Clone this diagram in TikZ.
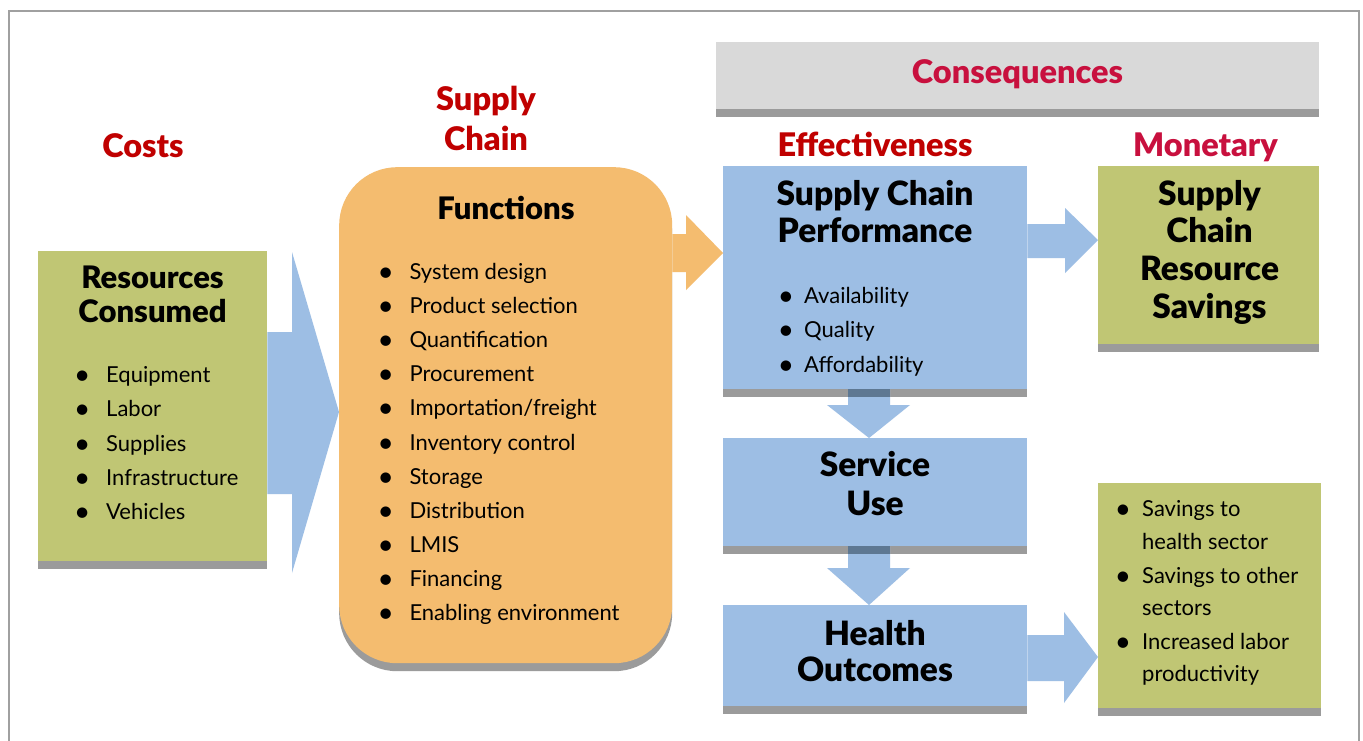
\documentclass[tikz,border=0pt]{standalone}
\usepackage{fontspec}
\setmainfont{Lato}
\newfontfamily\heavyfont{Lato Black}
\usetikzlibrary{calc,shadows}
\definecolor{boxgreen}{HTML}{C0C674}
\definecolor{boxblue}{HTML}{9DBEE4}
\definecolor{boxorange}{HTML}{F4BC6F}
\definecolor{bandgray}{HTML}{9B9B9B}
\definecolor{consgray}{HTML}{D9D9D9}
\definecolor{darkred}{HTML}{C00000}
\definecolor{crimson}{HTML}{C8103E}
\definecolor{overlapblue}{HTML}{5E7892}
\definecolor{framegray}{HTML}{A0A0A0}
\begin{document}
\begin{tikzpicture}[x=1pt,y=-1pt,
  box/.style={draw=none,inner sep=0pt,anchor=north west},
  head/.style={inner sep=0pt,anchor=base,font=\fontsize{31}{36}\selectfont\heavyfont},
  bighead/.style={inner sep=0pt,anchor=base,font=\fontsize{33.5}{38}\selectfont\heavyfont},
  title/.style={inner sep=0pt,anchor=base,font=\fontsize{32.5}{38}\selectfont\heavyfont,text=darkred},
  ctitle/.style={title,text=crimson},
  itemtxt/.style={inner sep=0pt,anchor=base west,font=\fontsize{22}{26}\selectfont},
  itembul/.style={inner sep=0pt,anchor=base,font=\fontsize{28}{30}\selectfont},
  band/.style={fill=bandgray},
  barrow/.style={fill=boxblue},
  oarrow/.style={fill=boxorange}]
\useasboundingbox (0,0) rectangle (1363,740);
\fill[white] (0,0) rectangle (1363,740);
\draw[framegray,line width=1.6pt] (9,760) -- (9,11) -- (1359,11) -- (1359,760);

% ---------- boxes ----------
\node[box,fill=boxgreen,minimum width=229pt,minimum height=310pt] (rc) at (38,251) {};
\fill[band] (rc.south west) rectangle ($(rc.south east)+(0,8)$);

\node[box,fill=boxorange,minimum width=333pt,minimum height=496pt,rounded corners=58pt,
  drop shadow={shadow xshift=0pt,shadow yshift=-8pt,fill=bandgray,opacity=1}] (fn) at (339,167) {};

\node[box,fill=consgray,minimum width=603pt,minimum height=67pt] (cons) at (716,42) {};
\fill[band] (cons.south west) rectangle ($(cons.south east)+(0,8)$);

\node[box,fill=boxblue,minimum width=304pt,minimum height=223pt] (scp) at (723,166) {};
\fill[band] (scp.south west) rectangle ($(scp.south east)+(0,8)$);

\node[box,fill=boxgreen,minimum width=221pt,minimum height=178pt] (mon) at (1098,166) {};
\fill[band] (mon.south west) rectangle ($(mon.south east)+(0,8)$);

\node[box,fill=boxblue,minimum width=304pt,minimum height=108pt] (su) at (723,438) {};
\fill[band] (su.south west) rectangle ($(su.south east)+(0,8)$);

\node[box,fill=boxblue,minimum width=304pt,minimum height=101pt] (ho) at (723,605) {};
\fill[band] (ho.south west) rectangle ($(ho.south east)+(0,8)$);

\node[box,fill=boxgreen,minimum width=223pt,minimum height=225pt] (sav) at (1098,483) {};
\fill[band] (sav.south west) rectangle ($(sav.south east)+(0,8)$);

% ---------- block arrows ----------
\fill[barrow] (rc.east |- 0,332) -- (292,332) -- (292,252) -- (fn.west |- 0,412)
  -- (292,573) -- (292,494) -- (rc.east |- 0,494) -- cycle;
\fill[oarrow] (fn.east |- 0,234) -- (686,234) -- (686,215) -- (scp.west |- 0,253)
  -- (686,290) -- (686,272) -- (fn.east |- 0,272) -- cycle;
\fill[barrow] (scp.east |- 0,224) -- (1065,224) -- (1065,208) -- (mon.west |- 0,240)
  -- (1065,273) -- (1065,258) -- (scp.east |- 0,258) -- cycle;
\fill[barrow] (ho.east |- 0,635) -- (1064,635) -- (1064,612) -- (sav.west |- 0,657)
  -- (1064,703) -- (1064,681) -- (ho.east |- 0,681) -- cycle;
\fill[barrow] (scp.south -| 848,0) -- (scp.south -| 890,0) -- (890,405) -- (910,405)
  -- (su.north -| 869,0) -- (827,405) -- (848,405) -- cycle;
\fill[overlapblue] (scp.south -| 848,0) rectangle (890,397);
\fill[barrow] (su.south -| 848,0) -- (su.south -| 890,0) -- (890,568) -- (910,568)
  -- (ho.north -| 869,0) -- (827,568) -- (848,568) -- cycle;
\fill[overlapblue] (su.south -| 848,0) rectangle (890,554);

% ---------- titles ----------
\node[title] (tcosts) at (143,157) {Costs};
\node[title] (tsc1) at (486,110) {Supply};
\node[title] (tsc2) at (486,150) {Chain};
\node[ctitle] (tcons) at (1017.5,83) {Consequences};
\node[title] (teff) at (875,156) {Effectiveness};
\node[ctitle] (tmon) at (1205.5,156) {Monetary};

% ---------- headings in boxes ----------
\node[head] (hrc1) at (152.5,288.5) {Resources};
\node[head] (hrc2) at (152.5,322.7) {Consumed};
\node[head] (hfn) at (506,219.5) {Functions};
\node[bighead] (hscp1) at (875,205) {Supply Chain};
\node[bighead] (hscp2) at (875,242.3) {Performance};
\node[bighead] (hmon1) at (1209.5,205) {Supply};
\node[bighead] (hmon2) at (1209.5,242.3) {Chain};
\node[bighead] (hmon3) at (1209.5,280) {Resource};
\node[bighead] (hmon4) at (1209.5,318) {Savings};
\node[bighead] (hsu1) at (875,476.7) {Service};
\node[bighead] (hsu2) at (875,515) {Use};
\node[bighead] (hho1) at (875,645) {Health};
\node[bighead] (hho2) at (875,681.7) {Outcomes};

% ---------- bullet lists ----------
\foreach \t [count=\i] in {Equipment,Labor,Supplies,Infrastructure,Vehicles}{
  \node[itembul] (rcb\i) at (82.3,{384.7+(\i-1)*34.15}) {\textbullet};
  \node[itemtxt] (rct\i) at (106,{382.7+(\i-1)*34.15}) {\t};
}
\foreach \t [count=\i] in {System design,Product selection,Quantification,Procurement,
  Importation/freight,Inventory control,Storage,Distribution,LMIS,Financing,Enabling environment}{
  \node[itembul] (fnb\i) at (385.7,{281.3+(\i-1)*34.15}) {\textbullet};
  \node[itemtxt] (fnt\i) at (409.3,{279.3+(\i-1)*34.15}) {\t};
}
\foreach \t [count=\i] in {Availability,Quality,Affordability}{
  \node[itembul] (scb\i) at (786,{305.3+(\i-1)*34.4}) {\textbullet};
  \node[itemtxt] (sct\i) at (804,{303.3+(\i-1)*34.4}) {\t};
}
\node[itembul] (svb1) at (1123,518.7) {\textbullet};
\node[itemtxt] (svt1) at (1142,516.7) {Savings to};
\node[itemtxt] (svt2) at (1142,549) {health sector};
\node[itembul] (svb3) at (1123,585.3) {\textbullet};
\node[itemtxt] (svt3) at (1142,583.3) {Savings to other};
\node[itemtxt] (svt4) at (1142,615.7) {sectors};
\node[itembul] (svb5) at (1123,651.3) {\textbullet};
\node[itemtxt] (svt5) at (1142,649.3) {Increased labor};
\node[itemtxt] (svt6) at (1142,681.7) {productivity};
\end{tikzpicture}
\end{document}
